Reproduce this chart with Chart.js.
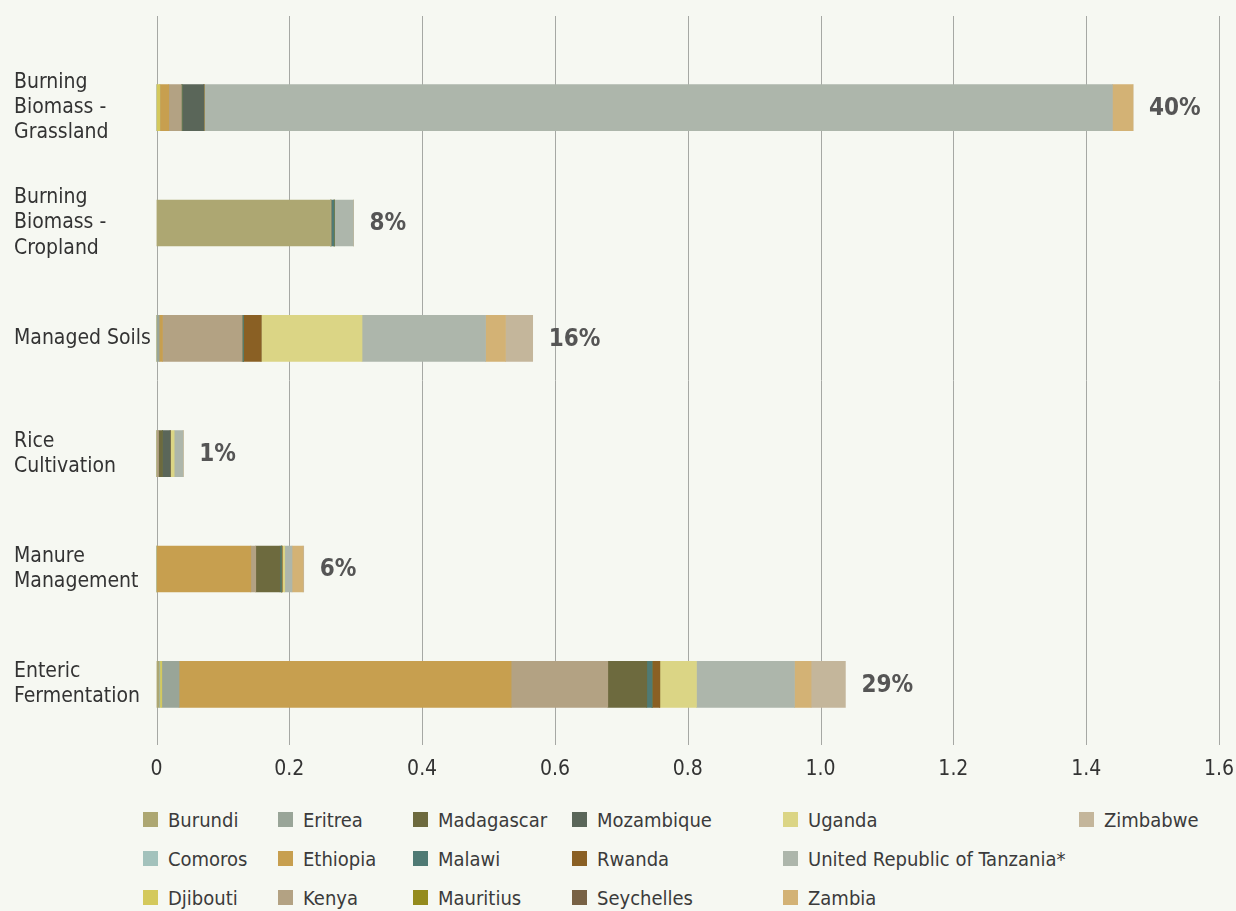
<!DOCTYPE html>
<html>
<head>
<meta charset="utf-8">
<script src="https://cdn.jsdelivr.net/npm/chart.js@4.4.1/dist/chart.umd.min.js"></script>
<style>
  body { margin: 0; background: #f6f8f2; width: 1236px; height: 911px; overflow: hidden; position: relative;
         font-family: 'Liberation Sans Narrow', 'DejaVu Sans Condensed', 'Roboto Condensed', 'Noto Sans', sans-serif; }
  #wrap { position: absolute; left: 0; top: 0; width: 1236px; height: 800px; }
  #legend { position: absolute; left: 143px; top: 800px; display: grid; grid-auto-flow: column;
            grid-template-rows: repeat(3, 39px); grid-template-columns: 135px 135px 159px 211px 296px auto; }
  .item { display: flex; align-items: center; font-size: 20px; color: #3b3b3b; white-space: nowrap; }
  .box { width: 15px; height: 15px; margin-right: 10px; flex: none; }
</style>
</head>
<body>
<div id="wrap"><canvas id="chart" width="1236" height="800"></canvas></div>
<div id="legend"></div>
<script>
const FONT = "'Liberation Sans Narrow', 'DejaVu Sans Condensed', 'Roboto Condensed', 'Noto Sans', sans-serif";

// Categorias (de arriba a abajo)
const categories = [
    ['Burning', 'Biomass -', 'Grassland'],
    ['Burning', 'Biomass -', 'Cropland'],
    'Managed Soils',
    ['Rice', 'Cultivation'],
    ['Manure', 'Management'],
    ['Enteric', 'Fermentation']
];
const shareLabels = ['40%', '8%', '16%', '1%', '6%', '29%'];
const xTicks = [0, 0.2, 0.4, 0.6, 0.8, 1, 1.2, 1.4, 1.6];

// Valores por pais, en el orden de las categorias
const burundi    = [0,      0.262,  0,      0,      0,      0.004];
const comoros    = [0,      0,      0,      0,      0,      0.001];
const djibouti   = [0.005,  0,      0,      0,      0,      0.003];
const eritrea    = [0,      0,      0.004,  0,      0,      0.026];
const ethiopia   = [0.0135, 0,      0.005,  0,      0.142,  0.5];
const kenya      = [0.019,  0.001,  0.12,   0.003,  0.0075, 0.1456];
const madagascar = [0,      0,      0,      0.006,  0.0366, 0.0587];
const malawi     = [0.001,  0.0045, 0.002,  0,      0.002,  0.008];
const mauritius  = [0,      0,      0,      0,      0,      0];
const mozambique = [0.033,  0,      0,      0.0116, 0,      0];
const rwanda     = [0,      0,      0.0265, 0,      0.001,  0.0116];
const seychelles = [0,      0,      0,      0,      0,      0];
const uganda     = [0.001,  0,      0.152,  0.006,  0.004,  0.0552];
const tanzania   = [1.367,  0.029,  0.186,  0.0135, 0.011,  0.1476];
const zambia     = [0.031,  0,      0.030,  0,      0.0166, 0.025];
const zimbabwe   = [0,      0,      0.041,  0,      0.001,  0.0517];

const series = [
    { label: 'Burundi', data: burundi, color: '#ada772' },
    { label: 'Comoros', data: comoros, color: '#a3c2bc' },
    { label: 'Djibouti', data: djibouti, color: '#d4c95c' },
    { label: 'Eritrea', data: eritrea, color: '#99a598' },
    { label: 'Ethiopia', data: ethiopia, color: '#c79f4f' },
    { label: 'Kenya', data: kenya, color: '#b3a283' },
    { label: 'Madagascar', data: madagascar, color: '#6d6a3e' },
    { label: 'Malawi', data: malawi, color: '#4f7a74' },
    { label: 'Mauritius', data: mauritius, color: '#948b1d' },
    { label: 'Mozambique', data: mozambique, color: '#5a6659' },
    { label: 'Rwanda', data: rwanda, color: '#8a6024' },
    { label: 'Seychelles', data: seychelles, color: '#786245' },
    { label: 'Uganda', data: uganda, color: '#dbd585' },
    { label: 'United Republic of Tanzania*', data: tanzania, color: '#adb6ab' },
    { label: 'Zambia', data: zambia, color: '#d3b275' },
    { label: 'Zimbabwe', data: zimbabwe, color: '#c4b69b' }
];

// Lineas verticales que suben por encima del area
const topGrid = {
    id: 'topGrid',
    beforeDatasetsDraw(chart) {
        const { ctx, chartArea, scales: { x } } = chart;
        ctx.save();
        ctx.strokeStyle = '#a6a8a4';
        ctx.lineWidth = 1;
        x.ticks.forEach(t => {
            const px = Math.round(x.getPixelForValue(t.value)) + 0.5;
            ctx.beginPath();
            ctx.moveTo(px, 16);
            ctx.lineTo(px, chartArea.bottom + 3);
            ctx.stroke();
        });
        ctx.restore();
    }
};

// Porcentaje al final de cada barra
const shareText = {
    id: 'shareText',
    afterDatasetsDraw(chart) {
        const { ctx, scales: { x, y } } = chart;
        ctx.save();
        ctx.font = 'bold 24px ' + FONT;
        ctx.fillStyle = '#555555';
        ctx.textBaseline = 'middle';
        ctx.textAlign = 'left';
        categories.forEach((c, i) => {
            const total = chart.data.datasets.reduce((s, d) => s + d.data[i], 0);
            ctx.fillText(shareLabels[i], x.getPixelForValue(total) + 16, y.getPixelForValue(i) + 1);
        });
        ctx.restore();
    }
};

const chart = new Chart(document.getElementById('chart'), {
    type: 'bar',
    data: {
        labels: categories,
        datasets: series.map(s => ({
            label: s.label,
            data: s.data,
            backgroundColor: s.color,
            borderWidth: 0,
            barThickness: 46
        }))
    },
    options: {
        indexAxis: 'y',
        responsive: false,
        animation: false,
        layout: { padding: { top: 50, left: 14, right: 17, bottom: 0 } },
        plugins: { legend: { display: false }, tooltip: { enabled: false } },
        scales: {
            x: {
                stacked: true,
                min: 0,
                max: 1.6,
                afterBuildTicks: scale => { scale.ticks = xTicks.map(v => ({ value: v })); },
                afterFit: scale => { scale.height = 58; scale.paddingRight = 0; scale.paddingLeft = 0; },
                grid: { display: false },
                border: { display: false },
                ticks: { color: '#333333', font: { family: FONT, size: 21 }, padding: 7, maxRotation: 0 }
            },
            y: {
                stacked: true,
                afterFit: scale => { scale.width = 142.5; scale.paddingTop = 0; scale.paddingBottom = 0; },
                grid: { display: false },
                border: { display: false },
                ticks: { color: '#333333', crossAlign: 'far', font: { family: FONT, size: 21, lineHeight: 1.2 } }
            }
        }
    },
    plugins: [topGrid, shareText]
});

// Leyenda HTML en columnas
const legend = document.getElementById('legend');
chart.data.datasets.forEach(d => {
    const item = document.createElement('div');
    item.className = 'item';
    item.innerHTML = `<span class="box" style="background:${d.backgroundColor}"></span>${d.label}`;
    legend.appendChild(item);
});
</script>
</body>
</html>
